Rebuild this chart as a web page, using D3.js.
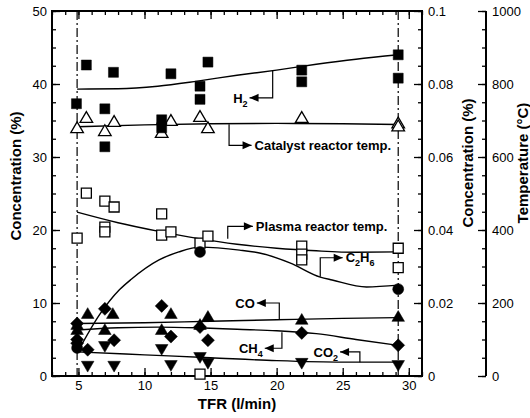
<!DOCTYPE html>
<html><head><meta charset="utf-8">
<script src="https://cdn.jsdelivr.net/npm/d3@7"></script>
<style>
body{margin:0;background:#fff;}
text{font-family:"Liberation Sans",Arial,sans-serif;}
</style></head><body>
<svg id="c" width="530" height="418"></svg>
<script>
// ---------- DATA ----------
const xTicksMajor = [5, 10, 15, 20, 25, 30];
const yLeftTicks = [0, 10, 20, 30, 40, 50];
const yConcTicks = [0, 0.02, 0.04, 0.06, 0.08, 0.1];
const yConcLabels = ["0", "0.02", "0.04", "0.06", "0.08", "0.1"];
const yTempTicks = [0, 200, 400, 600, 800, 1000];
const dashX = [4.9, 29.2];

// H2 (%), left axis
const h2X = [4.85, 5.6, 7.0, 7.65, 7.0, 11.3, 11.3, 12.0, 14.2, 14.2, 14.8, 21.9, 21.9, 29.2, 29.2];
const h2V = [37.3, 42.6, 36.6, 41.6, 31.4, 35.1, 34.0, 41.4, 39.7, 37.9, 43.0, 41.9, 40.3, 44.0, 40.8];
const h2FitX = [4.9, 8, 11, 14, 17, 20, 23, 26, 29.2];
const h2FitV = [39.3, 39.35, 39.7, 40.4, 41.2, 41.9, 42.7, 43.4, 44.0];

// Catalyst reactor temp (°C), temperature axis
const catX = [4.9, 5.6, 7.0, 7.7, 11.3, 12.0, 14.2, 14.8, 21.9, 29.2, 29.2];
const catV = [679, 707, 671, 696, 666, 699, 710, 679, 707, 692, 684];
const catFitX = [4.9, 10, 15, 20, 25, 29.2];
const catFitV = [683, 688, 691, 692, 691, 689];

// Plasma reactor temp (°C), temperature axis
const plaX = [4.9, 5.6, 7.0, 7.7, 7.0, 7.0, 11.3, 11.3, 12.0, 14.2, 14.8, 14.2, 21.9, 21.9, 21.9, 29.2, 29.2];
const plaV = [378, 501, 479, 463, 408, 395, 444, 386, 395, 364, 383, 5, 356, 334, 318, 350, 297];
const plaFitX = [4.9, 8, 11, 14, 17, 20, 23, 26, 29.2];
const plaFitV = [449, 420, 397, 377, 361, 350, 343, 339, 340];

// C2H6 (%), right concentration axis
const c2X = [4.9, 14.2, 29.2];
const c2V = [0.0077, 0.034, 0.0238];
const c2FitX = [4.9, 6.6, 8.1, 9.0, 11.1, 12.6, 14.2, 17.2, 18.7, 21.0, 23.3, 24.2, 26.8, 29.2];
const c2FitV = [0.0063, 0.0168, 0.0236, 0.0265, 0.0318, 0.034, 0.0353, 0.0345, 0.0337, 0.031, 0.0271, 0.0263, 0.0244, 0.0249];

// CO (%), left axis
const coX = [4.9, 4.9, 5.7, 7.0, 7.6, 11.3, 12.0, 14.2, 14.8, 21.9, 29.2];
const coV = [7.0, 6.3, 8.5, 6.3, 8.5, 6.3, 8.5, 7.0, 8.1, 7.7, 8.1];
const coFitX = [4.9, 10, 15, 20, 25, 29.2];
const coFitV = [7.2, 7.3, 7.5, 7.7, 7.9, 8.0];

// CH4 (%), left axis
const ch4X = [4.9, 4.9, 4.9, 5.7, 7.0, 7.7, 11.3, 12.0, 14.2, 14.8, 21.9, 29.2];
const ch4V = [7.2, 5.0, 4.5, 3.6, 9.2, 4.9, 9.6, 5.4, 6.7, 4.9, 5.9, 4.2];
const ch4FitX = [4.9, 8, 11, 14, 17, 20, 23, 26, 29.2];
const ch4FitV = [6.3, 6.6, 6.7, 6.6, 6.4, 6.2, 5.8, 5.0, 4.2];

// CO2 (%), left axis
const co2X = [5.7, 7.0, 7.7, 11.3, 12.0, 14.2, 14.8, 21.9, 29.2];
const co2V = [1.4, 4.1, 1.4, 3.7, 1.5, 2.6, 1.8, 1.8, 1.5];
const co2FitX = [4.9, 10, 15, 20, 25, 29.2];
const co2FitV = [3.3, 2.9, 2.5, 2.1, 1.9, 1.9];

// ---------- CHART ----------
const svg = d3.select("#c");
const L = 52, R = 422, T = 11, B = 376;
const x = d3.scaleLinear().domain([3, 31]).range([L, R]);
const y = d3.scaleLinear().domain([0, 50]).range([B, T]);
const yc = d3.scaleLinear().domain([0, 0.1]).range([B, T]);
const yt = d3.scaleLinear().domain([0, 1000]).range([B, T]);

const tickFont = g => g.selectAll("text").attr("font-size", 13).attr("fill", "#000")
  .attr("font-family", "'Liberation Sans',Arial,sans-serif");
const styleAxis = g => { g.select(".domain").remove(); g.selectAll("line").attr("stroke", "#000").attr("stroke-width", 1.3); };

// minor ticks
const rangeStep = (a, b, s) => d3.range(a, b + s / 2, s);
svg.append("g").attr("transform", `translate(0,${B})`)
  .call(d3.axisBottom(x).tickValues(rangeStep(3, 31, 1)).tickSize(-4).tickFormat(""))
  .call(styleAxis);
svg.append("g").attr("transform", `translate(0,${T})`)
  .call(d3.axisTop(x).tickValues(rangeStep(3, 31, 1)).tickSize(-4).tickFormat(""))
  .call(styleAxis);
svg.append("g").attr("transform", `translate(${L},0)`)
  .call(d3.axisLeft(y).tickValues(rangeStep(0, 50, 2.5)).tickSize(-4).tickFormat(""))
  .call(styleAxis);
svg.append("g").attr("transform", `translate(${R},0)`)
  .call(d3.axisRight(yc).tickValues(rangeStep(0, 0.1, 0.005)).tickSize(-4).tickFormat(""))
  .call(styleAxis);
svg.append("g").attr("transform", `translate(486,0)`)
  .call(d3.axisRight(yt).tickValues(rangeStep(0, 1000, 50)).tickSize(-4).tickFormat(""))
  .call(styleAxis);

// major ticks
svg.append("g").attr("transform", `translate(0,${B})`)
  .call(d3.axisBottom(x).tickValues(xTicksMajor).tickSize(-8).tickPadding(5))
  .call(styleAxis).call(tickFont);
svg.append("g").attr("transform", `translate(0,${T})`)
  .call(d3.axisTop(x).tickValues(xTicksMajor).tickSize(-8).tickFormat(""))
  .call(styleAxis);
svg.append("g").attr("transform", `translate(${L},0)`)
  .call(d3.axisLeft(y).tickValues(yLeftTicks).tickSize(-8).tickPadding(5))
  .call(styleAxis).call(tickFont);
svg.append("g").attr("transform", `translate(${R},0)`)
  .call(d3.axisRight(yc).tickValues(yConcTicks).tickSize(-8).tickPadding(6)
    .tickFormat((d, i) => yConcLabels[i]))
  .call(styleAxis).call(tickFont);
svg.append("g").attr("transform", `translate(486,0)`)
  .call(d3.axisRight(yt).tickValues(yTempTicks).tickSize(-8).tickPadding(6).tickFormat(d3.format("d")))
  .call(styleAxis).call(tickFont);

// frame & temperature axis line
svg.append("rect").attr("x", L).attr("y", T).attr("width", R - L).attr("height", B - T)
  .attr("fill", "none").attr("stroke", "#000").attr("stroke-width", 2);
svg.append("line").attr("x1", 486).attr("x2", 486).attr("y1", T).attr("y2", B)
  .attr("stroke", "#000").attr("stroke-width", 2);

// dash-dot verticals
svg.selectAll(".dd").data(dashX).join("line")
  .attr("x1", d => x(d)).attr("x2", d => x(d)).attr("y1", T).attr("y2", B)
  .attr("stroke", "#000").attr("stroke-width", 1.2).attr("stroke-dasharray", "9,3,2,3");

// fit curves
function fit(xs, vs, sc) {
  svg.append("path").datum(xs.map((d, i) => [d, vs[i]]))
    .attr("d", d3.line().x(d => x(d[0])).y(d => sc(d[1])).curve(d3.curveMonotoneX))
    .attr("fill", "none").attr("stroke", "#000").attr("stroke-width", 1.4);
}
fit(h2FitX, h2FitV, y);
fit(catFitX, catFitV, yt);
fit(plaFitX, plaFitV, yt);
fit(c2FitX, c2FitV, yc);
fit(coFitX, coFitV, y);
fit(ch4FitX, ch4FitV, y);
fit(co2FitX, co2FitV, y);

// markers
const shapes = {
  sq: s => `M${-s},${-s}H${s}V${s}H${-s}Z`,
  tri: s => `M0,${-s * 1.05}L${s * 1.05},${s * 0.75}L${-s * 1.05},${s * 0.75}Z`,
  dtri: s => `M0,${s * 1.05}L${s * 1.05},${-s * 0.75}L${-s * 1.05},${-s * 0.75}Z`,
  dia: s => `M0,${-s}L${s},0L0,${s}L${-s},0Z`,
  circ: s => `M${s},0A${s},${s} 0 1,1 ${-s},0A${s},${s} 0 1,1 ${s},0Z`
};
function pts(xs, vs, sc, shape, size, filled) {
  svg.append("g").selectAll("path").data(xs.map((d, i) => [d, vs[i]])).join("path")
    .attr("transform", d => `translate(${x(d[0])},${sc(d[1])})`)
    .attr("d", shapes[shape](size))
    .attr("fill", filled ? "#000" : "#fff").attr("stroke", "#000").attr("stroke-width", filled ? 0.5 : 1.3);
}
pts(plaX, plaV, yt, "sq", 5, false);
pts(catX, catV, yt, "tri", 6, false);
pts(h2X, h2V, y, "sq", 5, true);
pts(c2X, c2V, yc, "circ", 5.5, true);
pts(coX, coV, y, "tri", 6, true);
pts(ch4X, ch4V, y, "dia", 6.5, true);
pts(co2X, co2V, y, "dtri", 6, true);

// annotations (bracket + arrow + label)
function arrowHead(px, py, dir) {
  const l = 9, w = 4;
  svg.append("path").attr("d", `M${px},${py}L${px - dir * l},${py - w}L${px - dir * l},${py + w}Z`).attr("fill", "#000");
}
function annot(xv, y0, y1, xTip, sc, label, sub) {
  const px = x(xv), p0 = sc(y0), p1 = sc(y1), tip = x(xTip);
  svg.append("path").attr("d", `M${px},${p0}V${p1}H${tip}`).attr("fill", "none")
    .attr("stroke", "#000").attr("stroke-width", 1.2);
  const dir = tip > px ? 1 : -1;
  arrowHead(tip, p1, dir);
  const t = svg.append("text").attr("y", p1).attr("dy", "0.36em")
    .attr("font-weight", "bold").attr("font-size", 13).attr("fill", "#000");
  if (dir > 0) t.attr("x", tip + 3).attr("text-anchor", "start");
  else t.attr("x", tip - 2).attr("text-anchor", "end");
  label.forEach((s, i) => {
    t.append("tspan").attr("dy", i > 0 && sub[i - 1] ? -4 : null).text(s);
    if (sub[i]) t.append("tspan").attr("font-size", 9).attr("dy", 4).text(sub[i]);
  });
}
annot(19.7, 41.9, 38.1, 17.95, y, ["H"], ["2"]);
annot(16.4, 34.5, 31.6, 18.1, y, ["Catalyst reactor temp."], [""]);
annot(16.3, 18.8, 20.5, 18.2, y, ["Plasma reactor temp."], [""]);
annot(23.3, 13.6, 16.2, 25.0, y, ["C", "H"], ["2", "6"]);
annot(20.2, 7.8, 10.0, 18.5, y, ["CO"], [""]);
annot(20.4, 6.0, 3.8, 19.1, y, ["CH"], ["4"]);
annot(26.3, 1.9, 3.3, 24.8, y, ["CO"], ["2"]);

// axis titles
svg.append("text").attr("transform", "translate(21,176) rotate(-90)").attr("text-anchor", "middle")
  .attr("font-weight", "bold").attr("font-size", 15).text("Concentration (%)");
svg.append("text").attr("transform", "translate(473,163) rotate(-90)").attr("text-anchor", "middle")
  .attr("font-weight", "bold").attr("font-size", 15).text("Concentration (%)");
svg.append("text").attr("transform", "translate(528,163) rotate(-90)").attr("text-anchor", "middle")
  .attr("font-weight", "bold").attr("font-size", 15).text("Temperature (°C)");
svg.append("text").attr("x", 237).attr("y", 409).attr("text-anchor", "middle")
  .attr("font-weight", "bold").attr("font-size", 15).text("TFR (l/min)");
</script></body></html>
